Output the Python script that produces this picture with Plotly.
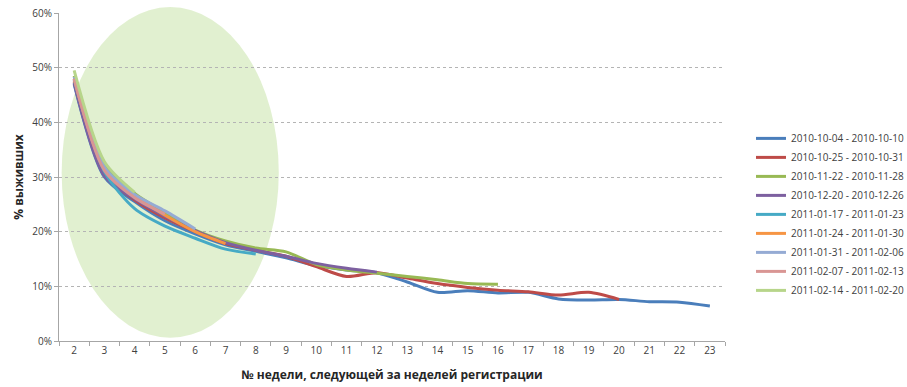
import plotly.graph_objects as go

# Week number after the registration week
weeks = [str(w) for w in range(2, 24)]

# Cohort labels (registration week)
cohorts = [
    "2010-10-04 - 2010-10-10",
    "2010-10-25 - 2010-10-31",
    "2010-11-22 - 2010-11-28",
    "2010-12-20 - 2010-12-26",
    "2011-01-17 - 2011-01-23",
    "2011-01-24 - 2011-01-30",
    "2011-01-31 - 2011-02-06",
    "2011-02-07 - 2011-02-13",
    "2011-02-14 - 2011-02-20",
]

# Survival, % of users still active (each cohort starts at week 2)
s_1004 = [47.0, 30.0, 25.5, 22.0, 19.6, 17.6, 16.4, 15.2, 13.8, 13.0, 12.5, 10.8, 8.9, 9.2, 8.8, 8.9, 7.7, 7.5, 7.6, 7.2, 7.1, 6.4]
s_1025 = [47.5, 30.5, 25.8, 22.5, 20.0, 17.8, 16.6, 15.5, 13.6, 11.8, 12.5, 11.5, 10.5, 9.8, 9.3, 9.0, 8.4, 8.9, 7.6]
s_1122 = [48.5, 32.5, 27.0, 23.5, 20.3, 18.3, 17.0, 16.3, 14.0, 13.0, 12.4, 11.8, 11.2, 10.5, 10.4]
s_1220 = [47.2, 30.2, 26.0, 22.8, 20.2, 18.0, 16.6, 15.5, 14.2, 13.3, 12.6]
s_0117 = [47.8, 31.0, 24.2, 21.0, 18.8, 16.8, 15.9]
s_0124 = [48.0, 31.5, 26.5, 23.0, 20.0, 17.8]
s_0131 = [48.3, 31.8, 26.8, 23.8, 20.5]
s_0207 = [48.0, 31.2, 26.2, 23.2]
s_0214 = [49.5, 32.8, 27.2]

series = [s_1004, s_1025, s_1122, s_1220, s_0117, s_0124, s_0131, s_0207, s_0214]
colors = ["#4A7EBB", "#BE4B48", "#98B954", "#7D60A0", "#46AAC5",
          "#F69544", "#95ABD4", "#D99694", "#B7D58A"]

y_ticks = [0, 10, 20, 30, 40, 50, 60]

fig = go.Figure()

for name, vals, col in zip(cohorts, series, colors):
    fig.add_trace(go.Scatter(
        x=weeks[:len(vals)], y=vals, name=name, mode="lines",
        line=dict(color=col, width=3, shape="spline", smoothing=0.8),
    ))

# Highlight of the early-drop region
fig.add_shape(
    type="circle", xref="paper", yref="paper",
    x0=0.004, x1=0.330, y0=0.010, y1=1.018,
    fillcolor="rgba(200,228,170,0.55)", line=dict(width=0), layer="below",
)

fig.update_layout(
    width=907, height=387,
    margin=dict(l=59, r=182, t=13, b=46, autoexpand=False),
    plot_bgcolor="white", paper_bgcolor="white",
    font=dict(family="Open Sans, DejaVu Sans, sans-serif", size=10, color="#404040"),
    showlegend=True,
    legend=dict(
        x=1.039, y=0.386, xanchor="left", yanchor="middle",
        font=dict(size=10, color="#404040"),
        itemwidth=30, tracegroupgap=0, bgcolor="rgba(0,0,0,0)",
    ),
)

fig.update_xaxes(
    type="category", categoryorder="array", categoryarray=weeks,
    range=[-0.5, len(weeks) - 0.5],
    showline=True, linecolor="#A6A6A6", linewidth=1,
    ticks="outside", tickson="boundaries", ticklen=4, tickcolor="#A6A6A6",
    showgrid=False, zeroline=False,
    title=dict(text="<b>№ недели, следующей за неделей регистрации</b>",
               font=dict(size=12, color="#262626"), standoff=14),
)

fig.update_yaxes(
    range=[0, 60], tickvals=y_ticks, ticktext=[f"{v}%" for v in y_ticks],
    showline=True, linecolor="#A6A6A6", linewidth=1,
    ticks="outside", ticklen=4, tickcolor="#A6A6A6",
    showgrid=True, gridcolor="#B4B4B4", griddash="3px,3px", gridwidth=1,
    zeroline=False,
    title=dict(text="<b>% выживших</b>", font=dict(size=12, color="#262626"), standoff=6),
)

fig.write_html("out.html")
